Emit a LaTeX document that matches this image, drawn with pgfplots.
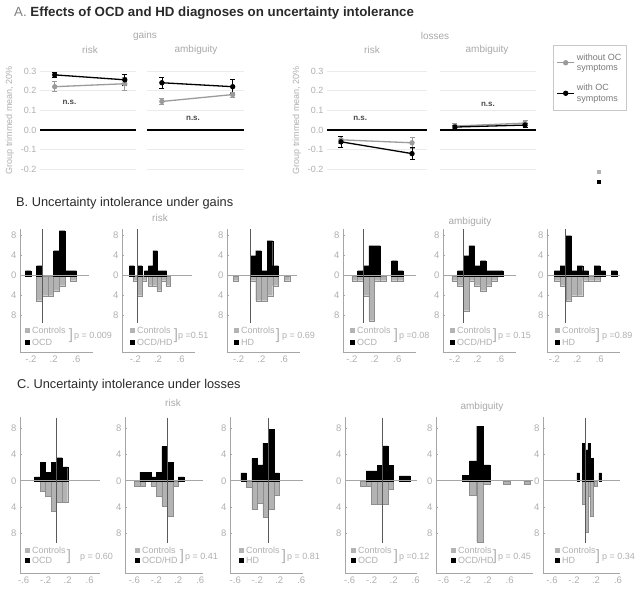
\documentclass[border=0pt]{standalone}
\usepackage{pgfplots}
\pgfplotsset{compat=1.18}
\usepackage{fontspec}
\setmainfont{Liberation Sans}
\definecolor{lblgray}{HTML}{AFAFAF}
\definecolor{facgray}{HTML}{A8A8A8}
\definecolor{axGray}{HTML}{A6A6A6}
\definecolor{gridgray}{HTML}{EBEBEB}
\definecolor{barGray}{HTML}{B3B3B3}
\definecolor{barEdge}{HTML}{8E8E8E}
\definecolor{lineGray}{HTML}{9B9B9B}
\definecolor{vlineC}{HTML}{5A5A5A}
\definecolor{nsC}{HTML}{4A4A4A}
\definecolor{legTxt}{HTML}{7A7A7A}
\definecolor{legBrd}{HTML}{C8C8C8}
\definecolor{titC}{HTML}{2A2A2A}
\newcommand{\tfont}{\fontsize{9}{10}\selectfont}
\newcommand{\hfont}{\fontsize{9.5}{10}\selectfont}
\newcommand{\lgfont}{\fontsize{9}{10}\selectfont}
\newcommand{\brfont}{\fontsize{15}{15}\selectfont}
\newcommand{\facfont}{\fontsize{10}{12}\selectfont}
\newcommand{\ttlfont}{\fontsize{12.8}{14}\selectfont}
\newcommand{\ttlAfont}{\fontsize{13.3}{15}\selectfont}
\tikzset{nsst/.style={font=\fontsize{8}{9}\selectfont\bfseries, text=nsC}}
\pgfplotsset{
  Abase/.style={scale only axis, clip=false, height=106.3pt, ymin=-0.22, ymax=0.32,
    ytick={-0.2,-0.1,0,0.1,0.2,0.3}, xtick=\empty, ymajorgrids,
    grid style={draw=gridgray, line width=0.7pt},
    axis line style={draw=none}, major tick length=0pt,
    tick label style={font=\tfont, text=lblgray}, ylabel style={font=\tfont, text=lblgray},
    yticklabels={}},
  Aleft/.style={yticklabels={-0.2,-0.1,0.0,0.1,0.2,0.3}, ylabel={Group trimmed mean, 20\%}},
  zeroA/.style={black, line width=1.1pt, forget plot},
  serG/.style={lineGray, line width=1.3pt, mark=*, mark size=2pt, mark options={fill=lineGray, draw=lineGray},
    /pgfplots/error bars/y dir=both, /pgfplots/error bars/y explicit,
    /pgfplots/error bars/error bar style={line width=0.6pt, lineGray},
    /pgfplots/error bars/error mark options={rotate=90, mark size=2.5pt, line width=0.6pt, lineGray}},
  serK/.style={black, line width=1.3pt, mark=*, mark size=2pt, mark options={fill=black, draw=black},
    /pgfplots/error bars/y dir=both, /pgfplots/error bars/y explicit,
    /pgfplots/error bars/error bar style={line width=0.6pt, black},
    /pgfplots/error bars/error mark options={rotate=90, mark size=2.5pt, line width=0.6pt, black}},
  hist/.style={scale only axis, axis x line*=bottom, axis y line*=left,
    axis line style={-, draw=axGray, line width=0.6pt},
    x axis line style={-}, y axis line style={-},
    major tick length=2pt, ytick style={draw=axGray, line width=0.5pt}, xtick style={draw=none},
    tick label style={font=\hfont, text=lblgray},
    ytick={-8,-4,0,4,8}, yticklabels={8,4,0,4,8}},
  histB/.style={hist, width=73pt, height=123.5pt, ymin=-15.3, ymax=9.4,
    xtick={-0.2,0.2,0.6}, xticklabels={-.2,.2,.6}},
  histC/.style={hist, height=156.4pt, ymin=-14.07, ymax=9.7,
    xtick={-0.6,-0.2,0.2,0.6}, xticklabels={-.6,-.2,.2,.6}},
  blk/.style={ybar, bar width=0.1, bar shift=0pt, fill=black, draw=black, line width=0.4pt},
  gry/.style={ybar, bar width=0.1, bar shift=0pt, fill=barGray, draw=barEdge, line width=0.4pt},
  zl/.style={axGray, line width=0.8pt},
  vl/.style={vlineC, line width=0.7pt},
}
\newcommand{\hleg}[8]{%
  \node[inner sep=0pt] at (#1pt,#2pt) {\color{barGray}\rule{5pt}{5pt}};
  \node[inner sep=0pt, anchor=west, font=\lgfont, text=lblgray] at ({#1pt+5pt},#2pt) {Controls};
  \node[inner sep=0pt] at (#1pt,#3pt) {\rule{5pt}{5pt}};
  \node[inner sep=0pt, anchor=west, font=\lgfont, text=lblgray] at ({#1pt+5pt},#3pt) {#4};
  \node[inner sep=0pt, font=\brfont, text=lblgray] at (#5pt,#6pt) {]};
  \node[inner sep=0pt, anchor=west, font=\lgfont, text=lblgray] at (#7pt,#6pt) {#8};
}
\begin{document}
\begin{tikzpicture}
\path[use as bounding box] (0pt,0pt) rectangle (644pt,590pt);
% ---------- titles ----------
\node[anchor=west, inner sep=0pt, font=\ttlAfont] at (14pt,577pt) {\textcolor{gray}{A.} \textbf{\textcolor{titC}{Effects of OCD and HD diagnoses on uncertainty intolerance}}};
\node[anchor=west, inner sep=0pt, font=\ttlfont, text=titC] at (16pt,387pt) {B. Uncertainty intolerance under gains};
\node[anchor=west, inner sep=0pt, font=\ttlfont, text=titC] at (17pt,205pt) {C. Uncertainty intolerance under losses};
% facet labels
\node[font=\facfont, text=facgray] at (145pt,554pt) {gains};
\node[font=\facfont, text=facgray] at (90pt,540pt) {risk};
\node[font=\facfont, text=facgray] at (196pt,540pt) {ambiguity};
\node[font=\facfont, text=facgray] at (435pt,554pt) {losses};
\node[font=\facfont, text=facgray] at (372pt,540pt) {risk};
\node[font=\facfont, text=facgray] at (487pt,540pt) {ambiguity};
\node[font=\facfont, text=facgray] at (160pt,372pt) {risk};
\node[font=\facfont, text=facgray] at (470pt,368pt) {ambiguity};
\node[font=\facfont, text=facgray] at (173pt,187pt) {risk};
\node[font=\facfont, text=facgray] at (482pt,183pt) {ambiguity};
\node[inner sep=0pt] at (599pt,418pt) {\color{barGray}\rule{4.5pt}{4.5pt}};
\node[inner sep=0pt] at (599pt,408pt) {\rule{4.5pt}{4.5pt}};
% ---------- Panel A ----------
\begin{axis}[Abase, Aleft, at={(40pt,416.7pt)}, anchor=south west, width=96pt, xmin=0.79, xmax=2.16]
\addplot[zeroA] coordinates {(0.79,0) (2.16,0)};
\addplot[serG] coordinates {(1,0.22) +- (0,0.025) (2,0.235) +- (0,0.035)};
\addplot[serK] coordinates {(1,0.28) +- (0,0.012) (2,0.255) +- (0,0.03)};
\node[nsst] at (axis cs:1.21,0.142) {n.s.};
\end{axis}
\begin{axis}[Abase, at={(147pt,416.7pt)}, anchor=south west, width=97pt, xmin=0.79, xmax=2.16]
\addplot[zeroA] coordinates {(0.79,0) (2.16,0)};
\addplot[serG] coordinates {(1,0.145) +- (0,0.015) (2,0.18) +- (0,0.012)};
\addplot[serK] coordinates {(1,0.24) +- (0,0.03) (2,0.22) +- (0,0.035)};
\node[nsst] at (axis cs:1.44,0.06) {n.s.};
\end{axis}
\begin{axis}[Abase, Aleft, at={(327pt,416.7pt)}, anchor=south west, width=100pt, xmin=0.803, xmax=2.211]
\addplot[zeroA] coordinates {(0.803,0) (2.211,0)};
\addplot[serG] coordinates {(1,-0.05) +- (0,0.02) (2,-0.065) +- (0,0.03)};
\addplot[serK] coordinates {(1,-0.06) +- (0,0.03) (2,-0.12) +- (0,0.03)};
\node[nsst] at (axis cs:1.27,0.06) {n.s.};
\end{axis}
\begin{axis}[Abase, at={(440pt,416.7pt)}, anchor=south west, width=96pt, xmin=0.786, xmax=2.157,
  legend style={at={(1.177,1.207)}, anchor=north west, draw=legBrd, line width=1pt,
    font=\fontsize{9}{10.5}\selectfont, text=legTxt, cells={anchor=west, align=left},
    inner xsep=3pt, inner ysep=6pt, row sep=8pt}]
\addplot[zeroA] coordinates {(0.786,0) (2.157,0)};
\addplot[serG] coordinates {(1,0.02) +- (0,0.012) (2,0.035) +- (0,0.012)};
\addlegendentry{without OC\\symptoms}
\addplot[serK] coordinates {(1,0.015) +- (0,0.01) (2,0.025) +- (0,0.01)};
\addlegendentry{with OC\\symptoms}
\node[nsst] at (axis cs:1.47,0.13) {n.s.};
\end{axis}
% ---------- Panel B ----------
\begin{axis}[histB, at={(20pt,237.8pt)}, anchor=south west, xmin=-0.393, xmax=0.894]
\addplot[gry] coordinates {(-0.05,-5) (0.05,-4) (0.15,-4) (0.25,-3) (0.35,-2) (0.55,-1)};
\addplot[blk] coordinates {(-0.25,1) (-0.05,2) (0.25,5) (0.35,9) (0.45,1) (0.55,1)};
\addplot[zl] coordinates {(-0.393,0) (0.83,0)};
\addplot[vl] coordinates {(0,9.3) (0,-9.5)};
\end{axis}
\begin{axis}[histB, at={(122pt,237.8pt)}, anchor=south west, xmin=-0.435, xmax=0.852]
\addplot[gry, bar width=0.08] coordinates {(-0.2,-1) (-0.12,-4) (-0.04,-1) (0.06,-2) (0.14,-2) (0.22,-3) (0.3,-1) (0.38,-2)};
\addplot[blk, bar width=0.08] coordinates {(-0.265,2) (-0.12,2) (0,1) (0.07,2) (0.15,5) (0.23,1) (0.31,1)};
\addplot[zl] coordinates {(-0.435,0) (0.8,0)};
\addplot[vl] coordinates {(-0.16,9.3) (-0.16,-9.5)};
\end{axis}
\begin{axis}[histB, at={(227pt,237.8pt)}, anchor=south west, xmin=-0.406, xmax=0.881]
\addplot[gry] coordinates {(-0.25,-1) (0.05,-1) (0.15,-5) (0.25,-5) (0.35,-4) (0.45,-2) (0.65,-1)};
\addplot[blk] coordinates {(0.05,4) (0.15,5) (0.25,1) (0.35,7) (0.45,2)};
\addplot[zl] coordinates {(-0.406,0) (0.83,0)};
\addplot[vl] coordinates {(0,9.3) (0,-9.5)};
\end{axis}
\begin{axis}[histB, at={(343pt,237.8pt)}, anchor=south west, xmin=-0.358, xmax=0.929]
\addplot[gry] coordinates {(-0.15,-1) (-0.05,-1) (0.05,-4) (0.15,-9) (0.25,-1) (0.35,-1) (0.55,-1) (0.65,-1)};
\addplot[blk] coordinates {(-0.05,1) (0.05,2) (0.15,6) (0.25,6) (0.55,3) (0.65,1)};
\addplot[zl] coordinates {(-0.358,0) (0.929,0)};
\addplot[vl] coordinates {(0,9.3) (0,-9.5)};
\end{axis}
\begin{axis}[histB, at={(443pt,237.8pt)}, anchor=south west, xmin=-0.407, xmax=0.88]
\addplot[gry] coordinates {(-0.2,-1) (-0.1,-2) (0,-7) (0.1,-1) (0.2,-2) (0.3,-3) (0.4,-2) (0.5,-1)};
\addplot[blk] coordinates {(-0.1,1) (0,4) (0.1,6) (0.2,2) (0.3,3) (0.4,1) (0.5,1) (0.6,1)};
\addplot[zl] coordinates {(-0.407,0) (0.88,0)};
\addplot[vl] coordinates {(-0.05,9.3) (-0.05,-9.5)};
\end{axis}
\begin{axis}[histB, at={(547pt,237.8pt)}, anchor=south west, xmin=-0.33, xmax=0.957]
\addplot[gry] coordinates {(-0.15,-1) (-0.05,-2) (0.05,-5) (0.15,-4) (0.25,-4) (0.35,-1) (0.45,-1) (0.55,-1)};
\addplot[blk] coordinates {(-0.15,1) (-0.05,2) (0.05,8) (0.15,1) (0.25,2) (0.35,1) (0.55,2) (0.65,1) (0.85,1)};
\addplot[zl] coordinates {(-0.33,0) (0.957,0)};
\addplot[vl] coordinates {(0,9.3) (0,-9.5)};
\end{axis}
\hleg{27}{260}{248}{OCD}{71}{254}{74}{p = 0.009}
\hleg{132}{260}{248}{OCD/HD}{176}{254}{178}{p =0.51}
\hleg{236}{260}{248}{HD}{278}{254}{282}{p = 0.69}
\hleg{352}{260}{248}{OCD}{396}{254}{399}{p =0.08}
\hleg{452}{260}{248}{OCD/HD}{495}{254}{498}{p = 0.15}
\hleg{557}{260}{248}{HD}{598}{254}{602}{p =0.89}
% ---------- Panel C ----------
\begin{axis}[histC, at={(20pt,16.7pt)}, anchor=south west, width=80pt, xmin=-0.667, xmax=0.787]
\addplot[gry] coordinates {(-0.25,-1.6) (-0.15,-2.4) (-0.05,-4.6) (0.05,-3.2) (0.15,-3.2)};
\addplot[blk] coordinates {(-0.35,0.6) (-0.25,2.8) (-0.15,1.3) (-0.05,2.8) (0.05,3.5) (0.15,2.1)};
\addplot[zl] coordinates {(-0.667,0) (0.787,0)};
\addplot[vl] coordinates {(0,9.6) (0,-9.5)};
\end{axis}
\begin{axis}[histC, at={(125pt,16.7pt)}, anchor=south west, width=78pt, xmin=-0.769, xmax=0.649]
\addplot[gry] coordinates {(-0.55,-0.9) (-0.45,-0.9) (-0.25,-0.9) (-0.15,-2.4) (-0.05,-3.9) (0.05,-5.4) (0.15,-0.9)};
\addplot[blk] coordinates {(-0.45,1.3) (-0.35,1.3) (-0.25,0.6) (-0.15,1.3) (-0.05,5.2) (0.05,2.8) (0.25,0.6)};
\addplot[zl] coordinates {(-0.769,0) (0.649,0)};
\addplot[vl] coordinates {(0,9.6) (0,-9.5)};
\end{axis}
\begin{axis}[histC, at={(230pt,16.7pt)}, anchor=south west, width=73pt, xmin=-0.696, xmax=0.631]
\addplot[gry] coordinates {(-0.35,-1) (-0.25,-4.4) (-0.15,-3.4) (-0.05,-5.5) (0.05,-4.4) (0.15,-2.2)};
\addplot[blk] coordinates {(-0.45,1.2) (-0.25,3.4) (-0.15,2.4) (-0.05,5.7) (0.05,7.8) (0.15,1.2)};
\addplot[zl] coordinates {(-0.696,0) (0.631,0)};
\addplot[vl] coordinates {(0,9.6) (0,-9.5)};
\end{axis}
\begin{axis}[histC, at={(345pt,16.7pt)}, anchor=south west, width=72pt, xmin=-0.685, xmax=0.624]
\addplot[gry] coordinates {(-0.35,-0.8) (-0.25,-0.8) (-0.15,-3.6) (-0.05,-3.6) (0.05,-3.6) (0.15,-1.3)};
\addplot[blk] coordinates {(-0.25,1.5) (-0.15,1.5) (-0.05,2.3) (0.05,5.3) (0.15,2.3) (0.35,0.75) (0.45,0.75)};
\addplot[zl] coordinates {(-0.685,0) (0.624,0)};
\addplot[vl] coordinates {(0,9.6) (0,-9.5)};
\end{axis}
\begin{axis}[histC, at={(436pt,16.7pt)}, anchor=south west, width=97pt, xmin=-0.74, xmax=1.024]
\addplot[gry, bar width=0.12] coordinates {(-0.07,-2.2) (0.06,-9.3) (0.18,-0.6) (0.55,-0.6) (0.92,-0.6)};
\addplot[blk, bar width=0.12] coordinates {(-0.2,0.8) (-0.07,3) (0.06,8.3) (0.18,2.4)};
\addplot[zl] coordinates {(-0.74,0) (1.024,0)};
\end{axis}
\begin{axis}[histC, at={(543pt,16.7pt)}, anchor=south west, width=77pt, xmin=-0.764, xmax=0.636]
\addplot[gry, bar width=0.05] coordinates {(-0.025,-3.6) (0.025,-7.8) (0.075,-2.3) (0.125,-5.4) (0.19,-0.9)};
\addplot[blk, bar width=0.05] coordinates {(-0.125,1.2) (-0.025,5.7) (0.025,4.7) (0.075,5.7) (0.125,3.4) (0.275,1.2)};
\addplot[zl] coordinates {(-0.764,0) (0.636,0)};
\addplot[vl] coordinates {(0,9.6) (0,-9.5)};
\end{axis}
\hleg{27}{40}{29.5}{OCD}{69}{33}{80}{p = 0.60}
\hleg{137}{40}{29.5}{OCD/HD}{182}{33}{185}{p = 0.41}
\hleg{241}{40}{29.5}{HD}{284}{33}{287}{p = 0.81}
\hleg{353}{40}{29.5}{OCD}{396}{33}{399}{p =0.12}
\hleg{453}{40}{29.5}{OCD/HD}{495}{33}{498}{p = 0.45}
\hleg{557}{40}{29.5}{HD}{598}{33}{602}{p = 0.34}
\end{tikzpicture}
\end{document}
